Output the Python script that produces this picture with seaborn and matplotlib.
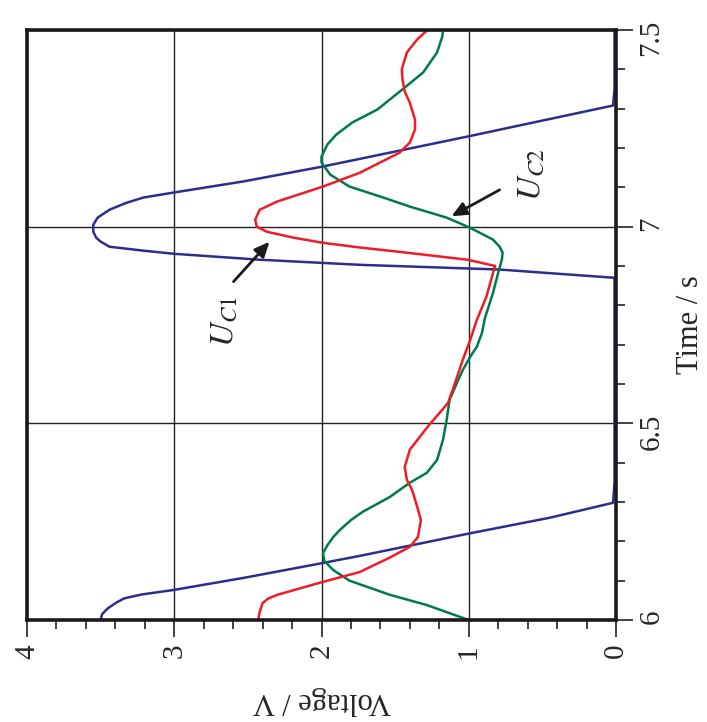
import numpy as np
import pandas as pd
import matplotlib
matplotlib.use("Agg")
import matplotlib.pyplot as plt
import seaborn as sns

# ---- data (time in s, voltage in V) ----
t_blue = [6.000, 6.015, 6.030, 6.045, 6.055, 6.065, 6.076, 6.107, 6.145, 6.163, 6.219,
          6.260, 6.298, 6.35, 6.45, 6.55, 6.65, 6.75, 6.85, 6.870,
          6.891, 6.903, 6.916, 6.931, 6.939, 6.949, 6.962, 6.972, 6.987, 7.005, 7.023,
          7.043, 7.060, 7.074, 7.087, 7.115, 7.153, 7.229, 7.308, 7.35, 7.40, 7.45, 7.50]
v_blue = [3.50, 3.49, 3.45, 3.39, 3.34, 3.22, 3.01, 2.53, 1.99, 1.74, 1.01,
          0.45, 0.02, 0.01, 0.01, 0.01, 0.01, 0.01, 0.01, 0.01,
          0.79, 1.74, 2.42, 3.00, 3.21, 3.44, 3.50, 3.53, 3.55, 3.55, 3.52,
          3.44, 3.33, 3.21, 3.00, 2.53, 1.99, 1.01, 0.02, 0.01, 0.01, 0.01, 0.01]

t_uc1 = [6.000, 6.020, 6.043, 6.055, 6.064, 6.080, 6.097, 6.122, 6.158, 6.186, 6.211,
         6.254, 6.288, 6.331, 6.356, 6.389, 6.433, 6.491, 6.517, 6.552, 6.606, 6.662,
         6.712, 6.763, 6.822, 6.883, 6.900, 6.916, 6.936, 6.947, 6.959, 6.972, 6.987,
         7.000, 7.018, 7.043, 7.064, 7.102, 7.137, 7.188, 7.214, 7.247, 7.272, 7.315,
         7.344, 7.374, 7.400, 7.443, 7.476, 7.500]
v_uc1 = [2.43, 2.42, 2.40, 2.36, 2.30, 2.15, 1.99, 1.74, 1.54, 1.40, 1.345,
         1.325, 1.35, 1.385, 1.42, 1.435, 1.40, 1.28, 1.22, 1.14, 1.09, 1.04,
         0.99, 0.945, 0.88, 0.835, 0.82, 1.01, 1.47, 1.74, 1.99, 2.19, 2.37,
         2.44, 2.45, 2.42, 2.30, 1.99, 1.74, 1.47, 1.40, 1.365, 1.365, 1.40,
         1.435, 1.45, 1.455, 1.42, 1.35, 1.28]

t_uc2 = [6.000, 6.038, 6.064, 6.100, 6.127, 6.150, 6.170, 6.190, 6.211, 6.229, 6.254,
         6.275, 6.313, 6.349, 6.374, 6.407, 6.458, 6.509, 6.560, 6.603, 6.636, 6.669,
         6.695, 6.730, 6.768, 6.832, 6.883, 6.916, 6.934, 6.949, 6.967, 6.997, 7.023,
         7.051, 7.074, 7.102, 7.132, 7.163, 7.178, 7.209, 7.234, 7.265, 7.298, 7.349,
         7.392, 7.443, 7.483, 7.500]
v_uc2 = [1.00, 1.285, 1.535, 1.81, 1.92, 1.98, 1.99, 1.96, 1.92, 1.875, 1.80,
         1.72, 1.535, 1.40, 1.285, 1.215, 1.175, 1.15, 1.13, 1.08, 1.04, 0.99,
         0.945, 0.91, 0.89, 0.835, 0.80, 0.775, 0.77, 0.79, 0.835, 0.99, 1.15,
         1.40, 1.58, 1.81, 1.94, 2.00, 2.00, 1.96, 1.90, 1.79, 1.62, 1.45,
         1.31, 1.215, 1.18, 1.175]

v_ticks = [0, 1, 2, 3, 4]
v_tick_labels = ["0", "1", "2", "3", "4"]
t_ticks = [6, 6.5, 7, 7.5]
t_tick_labels = ["6", "6.5", "7", "7.5"]

labels = {"uc1": r"$U_{C1}$", "uc2": r"$U_{C2}$"}

# ---- style ----
sns.set_style("white")
plt.rcParams["font.family"] = ["Liberation Serif", "DejaVu Serif"]
plt.rcParams["mathtext.fontset"] = "stix"

fig = plt.figure(figsize=(7.07, 7.22), dpi=100)
ax = fig.add_axes([27/707, 1 - 620/722, 589/707, 590/722])

c_blue = "#2B2E8C"
c_red = "#EE1C25"
c_green = "#007A4D"

for v, t, c in [(v_blue, t_blue, c_blue), (v_uc2, t_uc2, c_green), (v_uc1, t_uc1, c_red)]:
    df = pd.DataFrame({"V": v, "t": t})
    sns.lineplot(data=df, x="V", y="t", sort=False, estimator=None, color=c,
                 lw=1.8, ax=ax, legend=False)

ax.set_xlim(4, 0)
ax.set_ylim(6, 7.5)

ax.set_xticks(v_ticks)
ax.set_xticklabels(v_tick_labels, rotation=90, fontsize=21, va="center")
ax.set_xticks(np.arange(0, 4.01, 0.2), minor=True)
ax.yaxis.tick_right()
ax.set_yticks(t_ticks)
ax.set_yticklabels(t_tick_labels, rotation=90, fontsize=21, ha="center")
ax.set_yticks(np.arange(6, 7.501, 0.1), minor=True)

ax.tick_params(axis="both", which="major", direction="out", length=12, width=1.3,
               color="#333333")
ax.tick_params(axis="both", which="minor", direction="out", length=6.5, width=1.3,
               color="#333333")
ax.tick_params(axis="x", which="major", pad=10.5)
ax.tick_params(axis="y", which="major", pad=13.5)
ax.tick_params(axis="y", which="both", left=False, right=True)
ax.tick_params(axis="x", which="both", bottom=True, top=False)

ax.grid(True, which="major", color="#222222", lw=1.0)
ax.set_axisbelow(True)
for s in ax.spines.values():
    s.set_color("#1a1a1a")
    s.set_linewidth(2.6)

ax.set_xlabel("Voltage / V", fontsize=22, rotation=180)
ax.xaxis.label.set_va("center")
ax.xaxis.set_label_coords(0.5, -0.1356)
ax.yaxis.set_label_position("right")
ax.set_ylabel("Time / s", fontsize=22, rotation=90)
ax.yaxis.label.set_va("center")
ax.yaxis.label.set_ha("center")
ax.yaxis.set_label_coords(1.126, 0.5)

arrow = dict(arrowstyle="-|>,head_length=0.9,head_width=0.4", color="#1a1a1a", lw=2)
ax.annotate("", xy=(2.34, 6.967), xytext=(2.61, 6.855), arrowprops=arrow)
ax.annotate("", xy=(1.134, 7.023), xytext=(0.774, 7.097), arrowprops=arrow)
ax.text(2.66, 6.758, labels["uc1"], rotation=90, fontsize=24, ha="center", va="center")
ax.text(0.577, 7.132, labels["uc2"], rotation=90, fontsize=24, ha="center", va="center")

fig.savefig("out.png", dpi=100)
